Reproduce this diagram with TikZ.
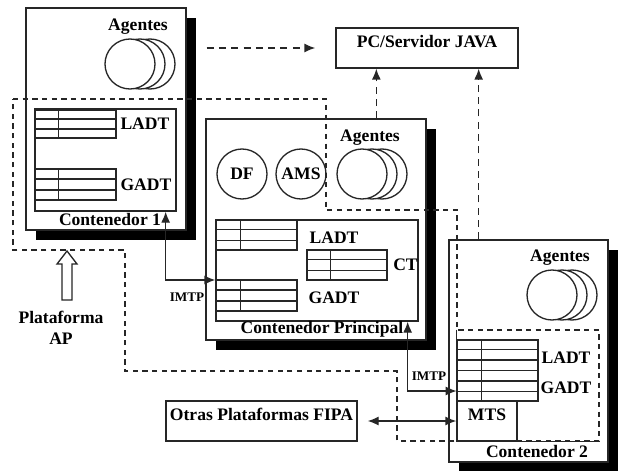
\documentclass[tikz,border=0pt]{standalone}
\usepackage{fontspec}
\setmainfont{Liberation Serif}
\usetikzlibrary{arrows.meta,positioning,fit,calc,shadows}

% rayas de una tabla: nodo, lineas interiores, posicion del separador
\newcommand{\filas}[3]{%
  \foreach \k in {1,...,#2}{%
    \draw[linea] ($(#1.north west)!\k/(#2+1)!(#1.south west)$) -- ($(#1.north east)!\k/(#2+1)!(#1.south east)$);}
  \draw[linea] ([xshift=#3]#1.north west) -- ([xshift=#3]#1.south west);}

\begin{document}
\begin{tikzpicture}[
    x=0.02cm, y=-0.02cm,
    >={Latex[length=2.2mm,width=1.8mm]},
    linea/.style={draw=black!85, line width=0.75pt},
    cont/.style={draw=black!85, line width=0.75pt, fill=white, inner sep=0pt, drop shadow={shadow xshift=0.2cm, shadow yshift=-0.2cm, fill=black, opacity=1}},
    caja/.style={draw=black!85, line width=0.75pt, fill=white, inner sep=0pt, font=\bfseries},
    tabla/.style={draw=black!85, line width=0.75pt, inner sep=0pt},
    hueco/.style={inner sep=0pt},
    agente/.style={circle, draw=black!85, line width=0.75pt, fill=white, minimum size=1cm, inner sep=0pt, font=\bfseries},
    lbl/.style={font=\bfseries, inner sep=0pt},
    small/.style={font=\bfseries\fontsize{7.5}{9}\selectfont, inner sep=0pt},
    plat/.style={draw=black!85, line width=0.8pt, dash pattern=on 3pt off 2.5pt},
    darrow/.style={->, draw=black!85, line width=0.8pt, dash pattern=on 4pt off 3pt}
]
\useasboundingbox (0,0) rectangle (621,470);

% Contenedores
\node[cont, fit={(26,8) (186,230)}] (c1) {};
\node[cont, fit={(206,119) (426,340)}] (cp) {};
\node[cont, fit={(449,240) (608,462)}] (c2) {};

% Cajas externas
\node[caja, fit={(336,28) (518,68)}] (pc) {PC/Servidor JAVA};
\node[caja, fit={(166,401) (357,441)}] (otras) {Otras Plataformas FIPA};

% 1. Contenedor 1
\node[lbl] (ag1txt) at (138,27) {Agentes};
\foreach \d/\n in {20/c,10/b,0/a}
    \node[agente] (ag1\n) at (130+\d,64) {};
\node[tabla, fit={(35,109) (176,211)}] (i1) {};
\node[tabla, fit={(35,110) (116,138)}] (t1l) {};
\filas{t1l}{2}{0.48cm}
\node[tabla, fit={(35,169) (116,200)}] (t1g) {};
\filas{t1g}{2}{0.48cm}
\node[lbl, right=2pt of t1l] (l1txt) {LADT};
\node[lbl, right=2pt of t1g] (g1txt) {GADT};
\node[lbl] (c1txt) at (110,219) {Contenedor 1};

% 2. Contenedor Principal
\node[lbl] (agptxt) at (370,138) {Agentes};
\node[agente] (df) at (242,174) {DF};
\node[agente] (ams) at (301,174) {AMS};
\foreach \d/\n in {20/c,10/b,0/a}
    \node[agente] (agp\n) at (362+\d,174) {};
\node[tabla, fit={(216,220) (418,321)}] (ip) {};
\node[tabla, fit={(216,220) (297,250)}] (tpl) {};
\filas{tpl}{2}{0.5cm}
\node[tabla, fit={(307,250) (387,280)}] (tpc) {};
\filas{tpc}{2}{0.48cm}
\node[tabla, fit={(216,280) (297,311)}] (tpg) {};
\filas{tpg}{2}{0.5cm}
\node[lbl] (lptxt) at (334,238) {LADT};
\node[lbl, right=3pt of tpc] (ctxt) {CT};
\node[lbl] (gptxt) at (334,298) {GADT};
\node[lbl] (cptxt) at (322,329) {Contenedor Principal};

% 3. Contenedor 2
\node[lbl] (ag2txt) at (560,258) {Agentes};
\foreach \d/\n in {20/c,10/b,0/a}
    \node[agente] (ag2\n) at (552+\d,295) {};
\node[hueco, fit={(457,330) (599,441)}] (i2) {};
\draw[linea] (i2.north west) -- (i2.south west) -- (i2.south east);
\node[tabla, fit={(457,340) (538,401)}] (t2) {};
\filas{t2}{5}{0.5cm}
\node[tabla, fit={(457,401) (517,441)}, font=\bfseries] (mts) {MTS};
\node[lbl] (l2txt) at (566,358) {LADT};
\node[lbl] (g2txt) at (566,388) {GADT};
\node[lbl] (c2txt) at (537,451) {Contenedor 2};

% Plataforma AP
\draw[plat] (13,99) -- (326,99) -- (326,210) -- (457,210) -- (457,330) -- (599,330)
    -- (599,441) -- (397,441) -- (397,371) -- (125,371) -- (125,250) -- (13,250) -- cycle;
\draw[linea, fill=white] (62,300) -- (62,264) -- (57,264) -- (67,251) -- (77,264)
    -- (72,264) -- (72,300) -- cycle;
\node[lbl, align=center] (aptxt) at (61,328) {Plataforma\\AP};

% Flechas
\coordinate (pcA) at ($(pc.south west)+(41,0)$);
\coordinate (pcB) at ($(pc.south east)+(-40,0)$);
\draw[darrow, shorten <=0.4cm, shorten >=0.4cm] (c1.east |- pc.west) -- (pc.west);
\draw[darrow] (pcA |- cp.north) -- (pcA);
\draw[darrow] (pcB |- c2.north) -- (pcB);

\draw[linea, <->] ([xshift=-0.22cm]i1.south east) |- ([yshift=-0.19cm]ip.west);
\node[small] (imtp1) at (187,297) {IMTP};
\draw[linea, <->] ([xshift=-0.22cm]ip.south east) |- ([yshift=-0.11cm]i2.west);
\node[small] (imtp2) at (429,376) {IMTP};
\draw[linea, <->, shorten <=0.2cm] (otras.east) -- (mts.west);

\end{tikzpicture}
\end{document}
